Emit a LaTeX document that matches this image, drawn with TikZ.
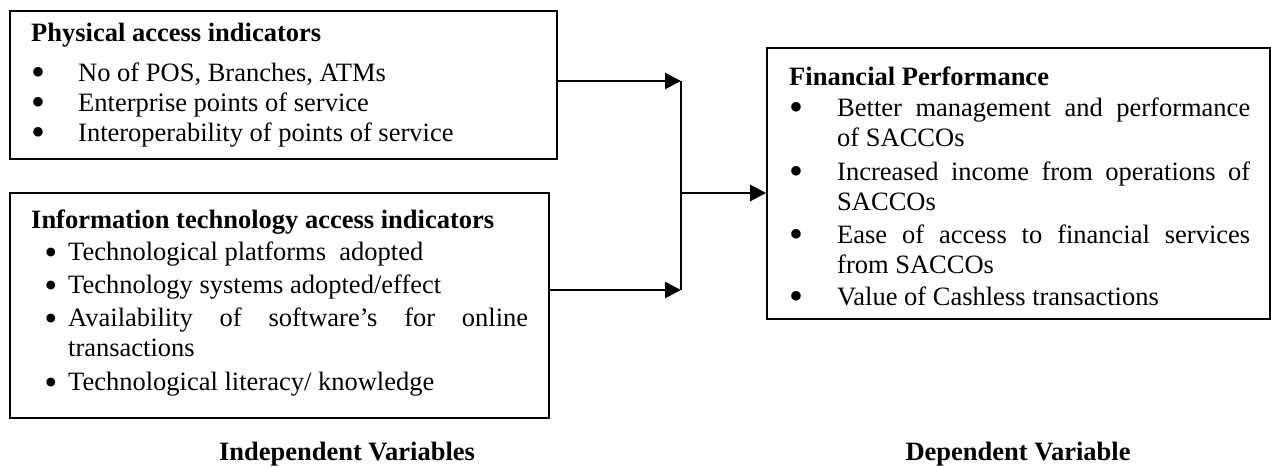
\documentclass[tikz,border=0pt]{standalone}
\usepackage{fontspec}
\setmainfont{Liberation Serif}
\newfontfamily\dejavu{DejaVu Sans}
\usetikzlibrary{arrows.meta}
\newcommand{\bigdot}{\raisebox{5.5pt}{\dejavu\fontsize{12.5}{13}\selectfont ●}}
\newcommand{\meddot}{\raisebox{5pt}{\dejavu\fontsize{11.5}{12}\selectfont ●}}
\begin{document}
\begin{tikzpicture}[x=1pt,y=-1pt,
  box/.style={draw, line width=1.8pt, inner sep=0pt},
  txt/.style={anchor=base west, inner sep=0pt, font=\fontsize{26.5}{32}\selectfont},
  hd/.style={txt, font=\fontsize{26.5}{32}\selectfont\bfseries},
  bul/.style={anchor=base, inner sep=0pt},
  conn/.style={line width=2.7pt},
  arr/.style={conn, -{Triangle[length=16pt,width=16pt]}}]
\useasboundingbox (0,0) rectangle (1271,466);
% boxes
\node[box, minimum width=547pt, minimum height=148pt] (box1) at (283.5,85) {};
\node[box, minimum width=539pt, minimum height=225pt] (box2) at (279.5,305.5) {};
\node[box, minimum width=503pt, minimum height=271pt] (box3) at (1018.5,183.5) {};
% box 1
\node[hd] (h1) at (31,41) {Physical access indicators};
\node[bul] (b11) at (38,81) {\bigdot};
\node[txt] (t11) at (78,81) {No of POS, Branches, ATMs};
\node[bul] (b12) at (38,111) {\bigdot};
\node[txt] (t12) at (78,111) {Enterprise points of service};
\node[bul] (b13) at (38,141) {\bigdot};
\node[txt] (t13) at (78,141) {Interoperability of points of service};
% box 2
\node[hd] (h2) at (31,228) {Information technology access indicators};
\node[bul] (b21) at (51,260) {\meddot};
\node[txt] (t21) at (68,260) {Technological platforms\ \ adopted};
\node[bul] (b22) at (51,293) {\meddot};
\node[txt] (t22) at (68,293) {Technology systems adopted/effect};
\node[bul] (b23) at (51,326) {\meddot};
\node[txt] (t23) at (68,326) {\makebox[460pt][s]{Availability of software’s for online}};
\node[txt] (t23b) at (68,356) {transactions};
\node[bul] (b24) at (51,390) {\meddot};
\node[txt] (t24) at (68,390) {Technological literacy/ knowledge};
% box 3
\node[hd] (h3) at (789,85) {Financial Performance};
\node[bul] (b31) at (796,116) {\bigdot};
\node[txt] (t31) at (837,116) {\makebox[413pt][s]{Better management and performance}};
\node[txt] (t31b) at (837,146) {of SACCOs};
\node[bul] (b32) at (796,180) {\bigdot};
\node[txt] (t32) at (837,180) {\makebox[413pt][s]{Increased income from operations of}};
\node[txt] (t32b) at (837,210) {SACCOs};
\node[bul] (b33) at (796,243) {\bigdot};
\node[txt] (t33) at (837,243) {\makebox[413pt][s]{Ease of access to financial services}};
\node[txt] (t33b) at (837,273) {from SACCOs};
\node[bul] (b34) at (796,305) {\bigdot};
\node[txt] (t34) at (837,305) {Value of Cashless transactions};
% labels
\node[hd, anchor=base] (lab1) at (347,460) {Independent Variables};
\node[hd, anchor=base] (lab2) at (1018,460) {Dependent Variable};
% connectors
\coordinate (j1) at (681,81);
\coordinate (j2) at (681,290);
\coordinate (j3) at (681,193);
\draw[arr] (box1.east |- j1) -- (j1);
\draw[arr] (box2.east |- j2) -- (j2);
\draw[conn] (j1) -- (j2);
\draw[arr] (j3) -- (box3.west |- j3);
\end{tikzpicture}
\end{document}
